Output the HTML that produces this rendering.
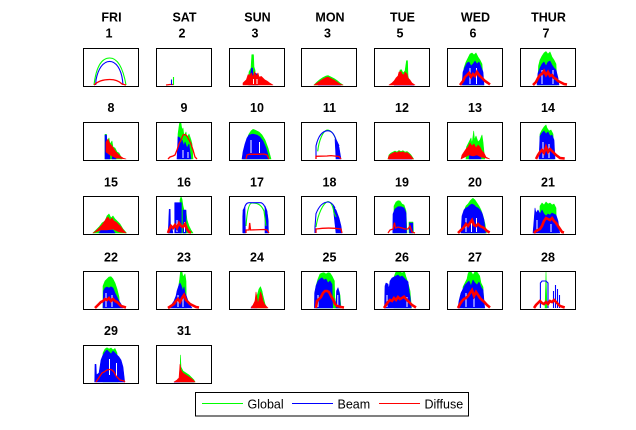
<!DOCTYPE html>
<html><head><meta charset="utf-8"><style>
html,body{margin:0;padding:0;background:#fff;}
svg{display:block;}
.t{font-family:"Liberation Sans",Arial,sans-serif;font-weight:bold;font-size:12.5px;fill:#000;text-anchor:middle;}
.l{font-family:"Liberation Sans",Arial,sans-serif;font-size:12.5px;fill:#000;}
.g{fill:#00ff00;stroke:#00ff00;stroke-width:0.6;stroke-linejoin:round;}
.b{fill:#0000ff;stroke:#0000ff;stroke-width:0.6;stroke-linejoin:round;}
.r{fill:#ff0000;stroke:#ff0000;stroke-width:0.6;stroke-linejoin:round;}
.rb{fill:none;stroke:#ff0000;stroke-width:2.6;stroke-linejoin:miter;}
.gl{fill:none;stroke:#00ff00;stroke-width:1.1;}
.bl{fill:none;stroke:#0000ff;stroke-width:1.1;}
.rl{fill:none;stroke:#ff0000;stroke-width:1.3;}
.w{stroke:#fff;stroke-width:1;fill:none;}
.bx{fill:none;stroke:#000;stroke-width:1;}
</style></head><body>
<svg width="636" height="430" viewBox="0 0 636 430" xmlns="http://www.w3.org/2000/svg">
<rect width="636" height="430" fill="#fff"/>

<text class="t" x="111.5" y="21.5">FRI</text><text class="t" x="109" y="37.5">1</text>
<text class="t" x="184.5" y="21.5">SAT</text><text class="t" x="182" y="37.5">2</text>
<text class="t" x="257.5" y="21.5">SUN</text><text class="t" x="255" y="37.5">3</text>
<text class="t" x="330" y="21.5">MON</text><text class="t" x="327.5" y="37.5">3</text>
<text class="t" x="402.5" y="21.5">TUE</text><text class="t" x="400" y="37.5">5</text>
<text class="t" x="475.5" y="21.5">WED</text><text class="t" x="473" y="37.5">6</text>
<text class="t" x="548.5" y="21.5">THUR</text><text class="t" x="546" y="37.5">7</text>

<text class="t" x="111" y="112">8</text>
<text class="t" x="184" y="112">9</text>
<text class="t" x="257" y="112">10</text>
<text class="t" x="329.5" y="112">11</text>
<text class="t" x="402" y="112">12</text>
<text class="t" x="475" y="112">13</text>
<text class="t" x="548" y="112">14</text>

<text class="t" x="111" y="186.5">15</text>
<text class="t" x="184" y="186.5">16</text>
<text class="t" x="257" y="186.5">17</text>
<text class="t" x="329.5" y="186.5">18</text>
<text class="t" x="402" y="186.5">19</text>
<text class="t" x="475" y="186.5">20</text>
<text class="t" x="548" y="186.5">21</text>

<text class="t" x="111" y="261.5">22</text>
<text class="t" x="184" y="261.5">23</text>
<text class="t" x="257" y="261.5">24</text>
<text class="t" x="329.5" y="261.5">25</text>
<text class="t" x="402" y="261.5">26</text>
<text class="t" x="475" y="261.5">27</text>
<text class="t" x="548" y="261.5">28</text>

<text class="t" x="111" y="335">29</text>
<text class="t" x="184" y="335">31</text>

<!-- P1 -->
<g transform="translate(83,48)">
<path class="gl" d="M11,37 C13,20 18,10 26.7,10 C35,10 40,20 43,37"/>
<path class="bl" d="M12.7,37 L13,32 C15,21 20,13.4 26.7,13.4 C33,13.4 38,21 39.5,32 L40,37"/>
<path class="rl" d="M11,37 C16,32 22,31.5 26.7,31.5 C32,31.5 36,33 39,36 L43,37"/>
<rect class="bx" x="0.5" y="0.5" width="55" height="38"/>
</g>
<!-- P2 -->
<g transform="translate(156,48)">
<path class="rl" d="M10,37 L14,36.5 L18,36.5"/>
<path class="bl" d="M15.5,37 V31.5"/>
<path class="gl" d="M17.5,37 V29"/>
<rect class="bx" x="0.5" y="0.5" width="55" height="38"/>
</g>
<!-- P3 -->
<g transform="translate(229,48)">
<polygon class="g" points="19,37 20,24 22,20 22.8,6.7 24.5,6.7 25,19 26,22 27,37"/>
<polygon class="b" points="20,37 21,30 22.5,20 23.5,20 24,28 26,25 28,26 29,37"/>
<polygon class="r" points="14,37 14,35 17.4,31.7 19,26.7 21,27 22.4,25 24,29 25.7,23.4 27,28 29,25 30,29 32.4,28.4 35.7,31.7 38,33 40.7,35 44,37"/>
<path class="w" d="M24.5,31V36M28,31V36"/>
<rect class="bx" x="0.5" y="0.5" width="55" height="38"/>
</g>
<!-- P4 -->
<g transform="translate(301,48)">
<polygon class="g" points="13,37 16,34 19,31.5 22,29.5 25,28 27,27.5 30,29 33,30.5 36,32.5 39,35 42,37"/>
<path class="bl" d="M17,37 H40"/>
<polygon class="r" points="13,37 16,35 19,33 22,31 25,29.5 27,29 30,30.5 33,32 36,34 39,36 42,37"/>
<rect class="bx" x="0.5" y="0.5" width="55" height="38"/>
</g>
<!-- P5 -->
<g transform="translate(374,48)">
<polygon class="g" points="24,37 26,22 27.5,21.7 29,25 31,23 32.5,12.7 33.5,12.7 34,28 36,37"/>
<path class="bl" d="M20,37 H40"/>
<polygon class="b" points="31,37 32,35 35,35 35.5,37"/>
<polygon class="r" points="15,37 18,35 20,33 22,30 24,28 25,24 27,23.5 28,26 30,27 31,24 33,26 34,30 36,32 38,35 41,37"/>
<rect class="bx" x="0.5" y="0.5" width="55" height="38"/>
</g>
<!-- P6 -->
<g transform="translate(447,48)">
<polygon class="g" points="16,37 17,20 19,14 21,10 23,6 25,5 27,7 29,5 31,9 33,12 35,16 36.5,37"/>
<polygon class="b" points="15,37 16,24 18,19 20,15 22,14 24,18 26,16 28,13 30,16 32,14 34,19 36,24 37,37"/>
<path class="w" d="M23,20V36M29.5,20V36"/>
<polyline class="rb" points="13,37 16,33 18,29 20,27 22,25 24,29 26,26 28,28 30,24 32,27 34,29 36,31 38,33 41,35 43,36.5"/>
<rect class="bx" x="0.5" y="0.5" width="55" height="38"/>
</g>
<!-- P7 -->
<g transform="translate(520,48)">
<polygon class="g" points="18,37 18.5,18 20,12 22,8 24,5 26,3.5 28,6 30,4 32,9 34,12 36,16 37,37"/>
<polygon class="b" points="17,37 18,25 20,20 22,16 24,14 26,18 28,14 30,13 32,17 34,20 36,22 38,30 39,37"/>
<path class="w" d="M22,22V36M33,22V36"/>
<polyline class="rb" points="13,37 16,34 18,30 20,27 22,26 24,23 26,27 28,24 30,28 32,27 34,30 36,31 38,33 40,34 44,36 47,36.5"/>
<rect class="bx" x="0.5" y="0.5" width="55" height="38"/>
</g>

<!-- P8 -->
<g transform="translate(83,122)">
<polygon class="g" points="22,37 22,12.3 23.5,12.3 24,20 26,16 27,22 29,19 30,25 32,26 34,30 36,31 38,35 39,37"/>
<polygon class="b" points="22,37 22,13 23.5,13 24,23 26,24 27,37"/>
<polygon class="b" points="29,37 30,31 32,31 33,37"/>
<polygon class="r" points="23,30 23,20 25,17 27,22 29,24 31,27 33,30 35,32 37,34 40,36 43,37 33,36 27,33"/>
<rect class="bx" x="0.5" y="0.5" width="55" height="38"/>
</g>
<!-- P9 -->
<g transform="translate(156,122)">
<polygon class="g" points="22,37 22,12 23.5,1.3 25,1.3 26,8 27,6 28,14 30,10 31,16 33,12 35,18 36,22 37,37"/>
<polygon class="b" points="21,37 22,14.7 24,16 25,22 26,18 28,24 29,20 31,26 33,22 34,30 35,37"/>
<path class="w" d="M27,28V36M32,30V36"/>
<polyline class="rl" points="12,37 14,35 17,34 19,33 21,28 23,22 25,18 27,13 29,12.5 31,14 33,18 35,22 37,28 39,35 41,37"/>
<rect class="bx" x="0.5" y="0.5" width="55" height="38"/>
</g>
<!-- P10 -->
<g transform="translate(229,122)">
<polygon class="g" points="14,37 16,25 18,17 20,12 22,9 24,7.3 26,8 28,9 30,10 33,13 36,18 39,26 42,37"/>
<polygon class="b" points="13,37 14,30 16,22 18,16 20,13 24,12 28,13 31,15 34,19 37,26 39,33 40,37"/>
<path class="w" d="M22,18V31M30.5,20V31"/>
<polyline class="rl" points="17,37 18,33 20,32.3 30,32.3 35,32 38,33 40,37"/>
<rect class="bx" x="0.5" y="0.5" width="55" height="38"/>
</g>
<!-- P11 -->
<g transform="translate(301,122)">
<polygon class="b" points="34,17 36,20 38,25 40,37 35,37"/>
<path class="gl" d="M16.7,29.3 C18,18 22,9 26,8 C30,8 33,12 35,18"/>
<path class="bl" d="M15,37 L15,24 C17,15 21,9 26.7,8.7 C31,9 33,12 35,17.7 L38,24"/>
<polyline class="rl" points="15,37 15,34.3 26,34 30,33.6 38,34.5 40,37"/>
<rect class="bx" x="0.5" y="0.5" width="55" height="38"/>
</g>
<!-- P12 -->
<g transform="translate(374,122)">
<polygon class="g" points="14,37 15,33 17,31 19,30 21,29 23,30 25,28.5 27,29.5 29,28.7 31,30 33,29.5 35,31 37,33 39,36 39.5,37"/>
<path class="bl" d="M15,37 H38"/>
<polygon class="r" points="14,37 15,34 17,32 19,31 21,30 23,31 25,29.5 27,30.5 29,29.7 31,31 33,30.5 35,32 37,34 39,36.5 39.5,37"/>
<rect class="bx" x="0.5" y="0.5" width="55" height="38"/>
</g>
<!-- P13 -->
<g transform="translate(447,122)">
<polygon class="g" points="19,37 19.5,25 21,22 22,20 24,16 25,22 26.7,9 27.5,18 29,14 31,20 33,18 35,13 36,20 37.7,37"/>
<polygon class="b" points="22,37 23,30 25,27 27,28 29,26 31,29 33,28 34,37"/>
<polygon class="r" points="14,37 15,33 17,30 19,27 21,25 23,21 25,24 27,22 29,26 31,23 33,25 35,29 37,31 39,35 42.7,37 34,35 30,33 26,34 22,33"/>
<rect class="bx" x="0.5" y="0.5" width="55" height="38"/>
</g>
<!-- P14 -->
<g transform="translate(520,122)">
<polygon class="g" points="19.7,37 20,12 22,8 24,5 26,3 27,6 29,9 31,8 33,12 34,37"/>
<polygon class="b" points="19,37 20,14 22,11 24,9 26,12 28,10 30,14 32,13 34,18 35,37"/>
<path class="w" d="M23,20V36M29,22V36"/>
<polyline class="rb" points="16,37 18,33 20,30 22,28 24,31 26,25 28,30 30,27 32,29 34,31 36,33 40,36 44.7,36.5"/>
<rect class="bx" x="0.5" y="0.5" width="55" height="38"/>
</g>

<!-- P15 -->
<g transform="translate(83,196)">
<polygon class="g" points="10,37 13,34 16,31 19,27 22,25 24,20 26,18 28,22 30,20 32,23 34,25 37,28 40,33 43.4,37"/>
<polygon class="b" points="16,37 18,34 30,34 32,37"/>
<polygon class="r" points="10,37 13,35 16,32 19,29 21,26 23,23 25,21 27,24 29,22 31,25 33,26 35,28 38,31 41,35 43,37 36,36 30,33 24,34 18,34"/>
<rect class="bx" x="0.5" y="0.5" width="55" height="38"/>
</g>
<!-- P16 -->
<g transform="translate(156,196)">
<polygon class="g" points="24,37 24,4 25,0.7 26,3 27,10 28,14 30,15 31,24 33,30 35,34 37,37"/>
<polygon class="b" points="18.7,37 18.7,6.7 25.4,6.7 25.4,37"/>
<polygon class="b" points="27,37 27,14 30,14 30,37"/>
<polygon class="b" points="12,37 12.5,30 13.2,13.3 14.2,13.3 14.5,30 16,32 17,37"/>
<path class="w" d="M21,24V36M28.5,26V36"/>
<polyline class="rb" points="12,37 13,34 15,30 17,32 19,29 21,32 23,27 25,30 27,31 29,28 31,33 33,36 35,36.5"/>
<rect class="bx" x="0.5" y="0.5" width="55" height="38"/>
</g>
<!-- P17 -->
<g transform="translate(229,196)">
<polygon class="b" points="14,37 14,14 16,11 16.5,37"/>
<polygon class="b" points="36,10 38,15 39,25 39.5,37 36,37"/>
<path class="gl" d="M17,30 C18,15 20,7 23,7 C28,7 32,8 35,15 L37,30"/>
<path class="bl" d="M14,37 L14,20 C15,10 17,6.7 20,6.7 L32,6.7 C36,8 38,15 39,25 L39,37"/>
<polyline class="rl" points="17,37 17,34 20,34 20.7,27 21.5,34 35,33.5 38,34 40,37"/>
<rect class="bx" x="0.5" y="0.5" width="55" height="38"/>
</g>
<!-- P18 -->
<g transform="translate(301,196)">
<polygon class="b" points="32,10 35,14 38,22 40,30 41,37 35,37"/>
<path class="gl" d="M15,31 C17,18 22,7 27,5.5 C30,6 32,10 33,17 L35,21"/>
<path class="bl" d="M14,37 L14,31 L15,17.7 C18,10 22,6 27,6 C30,6 32,8 34,12"/>
<path class="rl" d="M15,37 L15,33 C22,32 30,31.5 40,33 L41,37"/>
<rect class="bx" x="0.5" y="0.5" width="55" height="38"/>
</g>
<!-- P19 -->
<g transform="translate(374,196)">
<polygon class="g" points="20,37 20,10 22,6 24,4.7 26,5 28,8 30,9 32,15 33,37"/>
<polygon class="g" points="35,37 35,26 39,26 39.5,37"/>
<polygon class="b" points="18.8,37 19,18 21,13 24,10.7 27,10.7 30,12 32,17 32.5,37"/>
<polygon class="b" points="35.5,37 35.5,27 38.8,27 38.8,37"/>
<polyline class="rl" points="14,37 16,34 19,33 20.5,26.7 21.5,32 24,31 28,32 31,33 34,33 36,30 37,33 38,36 41,37"/>
<rect class="bx" x="0.5" y="0.5" width="55" height="38"/>
</g>
<!-- P20 -->
<g transform="translate(447,196)">
<polygon class="g" points="16,37 17,15 19,10 21,8 23,5 25,3 26,2.3 28,4 30,7 32,10 34,14 36,20 38,28 39.4,37"/>
<polygon class="b" points="14,37 15,20 17,14 19,12 21,11 23,9 25,8 27,9 29,11 31,12 33,14 35,17 37,24 38.5,37"/>
<path class="w" d="M19,22V36M24.5,24V36M29.5,22V36"/>
<polyline class="rb" points="11,37 13,35 15,33 17,31 19,28 21,30 23,27 25,24 27,29 29,30 31,28 33,30 35,31 37,32 40,35 42.7,36.5"/>
<rect class="bx" x="0.5" y="0.5" width="55" height="38"/>
</g>
<!-- P21 -->
<g transform="translate(520,196)">
<polygon class="g" points="19.7,37 20,10 22,7 24,9 26,6 28,8 30,7 32,9 34,8 36,12 36.4,37"/>
<polygon class="b" points="13,37 14,25 15,12 16,17 18,14 20,18 22,14 24,18 26,20 28,18 30,19 32,17 34,18 36,19 38,25 39.7,37"/>
<path class="w" d="M17,24V36M31,28V36"/>
<polyline class="rb" points="14,37 16,35 18,34 20,33 22,30 24,25 26,22 28,23 30,24 32,22 34,25 36,27 38,30 40,33 42,36 44,36.5"/>
<rect class="bx" x="0.5" y="0.5" width="55" height="38"/>
</g>

<!-- P22 -->
<g transform="translate(83,271)">
<polygon class="g" points="20,37 20,15 22,10 24,8 26,6 28,5.7 30,8 32,12 34,18 36,26 36.7,37"/>
<polygon class="b" points="20,37 20.5,20 22,17 24,16 26,17 28,15.7 30,17 32,22 34,26 36,30 38,33 40,37"/>
<path class="w" d="M23,22V36M29,24V36"/>
<polyline class="rb" points="12,37 14,35 16,33 18,31 20,30 22,28 24,29 26,27 28,30 30,28 32,30 34,31 36,33 38,35 43,36.5"/>
<rect class="bx" x="0.5" y="0.5" width="55" height="38"/>
</g>
<!-- P23 -->
<g transform="translate(156,271)">
<polygon class="g" points="21,37 22,20 23.7,8 24.5,0.7 26,0.7 27,6 29,3 30,10 30.4,37"/>
<polygon class="b" points="14,37 16,33 18,30 20,25 21,20 23,14 24,12 25,14 26,17 27,20 28,16 29,22 30,24 32,30 34,34 36,37"/>
<path class="w" d="M22,24V36M27,26V36"/>
<polyline class="rb" points="12,37 15,35 18,33 20,30 22,28 24,31 26,27 28,24 30,29 32,31 34,33 36,34 40,36 43,36.5"/>
<rect class="bx" x="0.5" y="0.5" width="55" height="38"/>
</g>
<!-- P24 -->
<g transform="translate(229,271)">
<polygon class="g" points="25,37 26,30 28,25 30,18 31.5,15.7 33,20 34,25 36,33 38,37"/>
<polygon class="b" points="22,37 23,35 27,35 28,37"/>
<polygon class="r" points="22,37 24,34 26,30 27,21 28,27 29,33 30,28 31.5,21 33,25 34,30 36,34 39,37"/>
<rect class="bx" x="0.5" y="0.5" width="55" height="38"/>
</g>
<!-- P25 -->
<g transform="translate(301,271)">
<polygon class="g" points="15,37 15,15 17,8 19,3 21,2 23,1.7 25,3 27,1.7 29,2 31,5 33.4,10 34,37"/>
<polygon class="g" points="34,37 35,28 37,19 39,24 40,37"/>
<polygon class="b" points="13.4,37 13.6,22 15,15 17,10 19,8 21,6.7 23,9 25,8 27,12 29,10 31,13.3 31.7,37"/>
<polygon class="b" points="35,37 35.5,20 37,16.7 38.5,22 39.4,37"/>
<path class="w" d="M17,24V36M36.8,24V36"/>
<polyline class="rb" points="15,37 16,30 18,28 20,26 22,22 24,20 26,20 28,21 30,25 32,28.3 34,33 36,35 40,36 43,36.5"/>
<rect class="bx" x="0.5" y="0.5" width="55" height="38"/>
</g>
<!-- P26 -->
<g transform="translate(374,271)">
<polygon class="g" points="20,37 20,6 22,0.7 24,1 26,0.7 28,2 30.5,0.7 32,6 34,12 36,20 37.5,37"/>
<polygon class="b" points="10.5,37 11,15 12,12 14,13 15,18 16,10 18,7 20,6 22,5 24,4 26,6 28,5 30,7 32,9 34,10.7 35,20 36,25 37.2,37"/>
<path class="w" d="M13,24V36M33,26V36"/>
<polyline class="rb" points="10,37 12,34 14,31 16,29 18,30 20,27 22,29 24,26 26,28 28,27 30,25.7 32,28 34,30 36,32 38,34 42,36.5"/>
<rect class="bx" x="0.5" y="0.5" width="55" height="38"/>
</g>
<!-- P27 -->
<g transform="translate(447,271)">
<polygon class="g" points="16,37 16,16 18,12 20,8 21,3 22,0.7 24,0.7 26,4 28,0.7 30,1 32.7,5 34,12 36,16 37,37"/>
<polygon class="b" points="11,37 12,30 14,22 16,18 18,14 20,12 22,10 24,15 26,9 28,12 30,14 32,11 34,16 36,19 37.7,37"/>
<path class="w" d="M19,22V36M27,24V36"/>
<polyline class="rb" points="11,37 13,33 15,30 17,28 19,27 21,25 23,22 25,19 27,25 29,21 31,24 33,27 35,29 37,30.7 40,34 43,36.5"/>
<rect class="bx" x="0.5" y="0.5" width="55" height="38"/>
</g>
<!-- P28 -->
<g transform="translate(520,271)">
<polygon class="g" points="25,37 26,0.7 27,37"/>
<path class="bl" d="M20.4,37 L20.4,12 L22,10 L26,10 L28,12 L28,37"/>
<path class="bl" d="M33.5,37 V20 M35.5,37 V14 M37.5,37 V18 M39.5,37 V24"/>
<polyline class="rb" points="14,37 16,34 18,32 20,30 22,32 24,33 26,31 28,33 30,30 32,31 34,29 36,31 38,33 40,35 44.7,36.5"/>
<rect class="bx" x="0.5" y="0.5" width="55" height="38"/>
</g>

<!-- P29 -->
<g transform="translate(83,345)">
<polygon class="g" points="20,37 20,8 22,4 24,2.7 26,4 28,3 30,5 32,3.5 34,8 35,37"/>
<polygon class="b" points="11.7,37 12,19.3 13,19.3 13.5,30 16,28 18,15 20,10 22,7 24,5 26,7 28,9 30,6 32,8 34,10 36,12 38,15 40,22 41.7,37"/>
<path class="w" d="M26.5,14V30M33.5,18V32"/>
<polyline class="rl" points="13,37 15,34 17,31 19,28 21,27 24,25 27,24.4 29,25 31,27 33,31 35,33 37,35 41,36 42,37"/>
<rect class="bx" x="0.5" y="0.5" width="55" height="38"/>
</g>
<!-- P31 -->
<g transform="translate(156,345)">
<path class="bl" d="M18,37 H38"/>
<polygon class="b" points="20,37 22,34 23,37"/>
<polygon class="g" points="24,37 24.4,10 25,22 27,26 30,28 33,30 36,33 38,35 39,37"/>
<polygon class="r" points="18,37 21,35 23,33 24,19.3 25,25 27,28 30,30 33,32 36,34 38,36 39,37"/>
<rect class="bx" x="0.5" y="0.5" width="55" height="38"/>
</g>

<!-- Legend -->
<rect x="195.5" y="392.5" width="273" height="23.5" fill="#fff" stroke="#000" stroke-width="1"/>
<line x1="202" y1="403.5" x2="243" y2="403.5" stroke="#00ff00" stroke-width="1"/>
<text class="l" x="247.5" y="408.3">Global</text>
<line x1="292" y1="403.5" x2="333" y2="403.5" stroke="#0000ff" stroke-width="1"/>
<text class="l" x="337.5" y="408.3">Beam</text>
<line x1="379" y1="403.5" x2="420" y2="403.5" stroke="#ff0000" stroke-width="1"/>
<text class="l" x="424.5" y="408.3">Diffuse</text>
</svg>
</body></html>
